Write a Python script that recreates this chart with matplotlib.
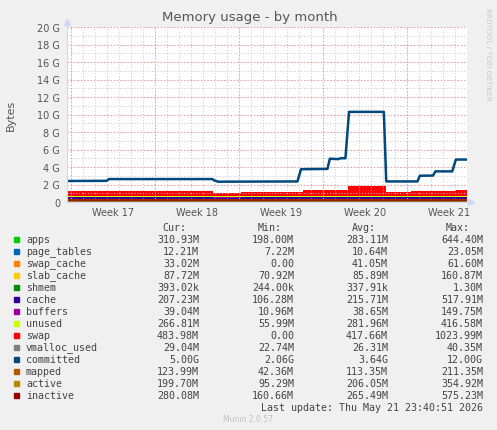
import numpy as np
import matplotlib
matplotlib.use("Agg")
import matplotlib.pyplot as plt
from matplotlib.patches import Rectangle
from matplotlib.transforms import blended_transform_factory

W, H = 497, 431

# stacked areas, values in G per time segment (days since left edge)
seg_days = [0, 12.2, 14.5, 19.7, 23.4, 26.6, 28.7, 32.4, 33.33]
apps = [0.20, 0.19, 0.20, 0.21, 0.22, 0.20, 0.20, 0.21]
page_tables = [0.01, 0.01, 0.01, 0.01, 0.01, 0.01, 0.01, 0.01]
swap_cache = [0.03, 0.03, 0.03, 0.04, 0.05, 0.03, 0.03, 0.03]
slab_cache = [0.10, 0.09, 0.09, 0.09, 0.09, 0.09, 0.09, 0.09]
shmem = [0.0003, 0.0003, 0.0003, 0.0003, 0.0003, 0.0003, 0.0003, 0.0003]
cache = [0.19, 0.19, 0.19, 0.18, 0.17, 0.20, 0.20, 0.19]
buffers = [0.04, 0.04, 0.04, 0.04, 0.03, 0.04, 0.04, 0.04]
unused = [0.15, 0.15, 0.15, 0.15, 0.15, 0.15, 0.15, 0.15]
swap = [0.57, 0.31, 0.38, 0.65, 1.14, 0.46, 0.57, 0.65]

# lines
committed_t = [0, 3.3, 3.5, 12.1, 12.3, 12.6, 19.2, 19.5, 21.7, 21.9, 22.6, 22.8,
               23.2, 23.5, 26.4, 26.6, 29.2, 29.4, 30.5, 30.7, 32.1, 32.4, 33.25]
committed = [2.40, 2.42, 2.62, 2.62, 2.45, 2.32, 2.35, 3.75, 3.78, 4.95, 4.90, 5.00,
             5.00, 10.30, 10.30, 2.35, 2.35, 3.00, 3.02, 3.50, 3.50, 4.85, 4.85]
vmalloc_used = [0.03, 0.03, 0.03, 0.03, 0.03, 0.03, 0.03, 0.03]
mapped = [0.11, 0.10, 0.11, 0.12, 0.12, 0.11, 0.11, 0.12]
active = [0.19, 0.18, 0.19, 0.21, 0.22, 0.19, 0.19, 0.20]
inactive = [0.25, 0.24, 0.25, 0.27, 0.28, 0.26, 0.26, 0.27]

names = ["apps", "page_tables", "swap_cache", "slab_cache", "shmem", "cache", "buffers",
         "unused", "swap", "vmalloc_used", "committed", "mapped", "active", "inactive"]
colors = ["#00cc00", "#0066b3", "#ff8000", "#ffcc00", "#008f00", "#330099", "#990099",
          "#ccff00", "#ff0000", "#808080", "#00487d", "#b35a00", "#b38f00", "#990000"]
cur = ["310.93M", "12.21M", "33.02M", "87.72M", "393.02k", "207.23M", "39.04M",
       "266.81M", "483.98M", "29.04M", "5.00G", "123.99M", "199.70M", "280.08M"]
mins = ["198.00M", "7.22M", "0.00", "70.92M", "244.00k", "106.28M", "10.96M",
        "55.99M", "0.00", "22.74M", "2.06G", "42.36M", "95.29M", "160.66M"]
avgs = ["283.11M", "10.64M", "41.05M", "85.89M", "337.91k", "215.71M", "38.65M",
        "281.96M", "417.66M", "26.31M", "3.64G", "113.35M", "206.05M", "265.49M"]
maxs = ["644.40M", "23.05M", "61.60M", "160.87M", "1.30M", "517.91M", "149.75M",
        "416.58M", "1023.99M", "40.35M", "12.00G", "211.35M", "354.92M", "575.23M"]

week_starts = [0.33, 7.33, 14.33, 21.33, 28.33]
week_labels = ["Week 17", "Week 18", "Week 19", "Week 20", "Week 21"]
y_ticks = list(range(0, 21, 2))
y_labels = ["0"] + ["%d G" % v for v in y_ticks[1:]]


def fy(px):
    return 1 - px / H


def fx(px):
    return px / W


fig = plt.figure(figsize=(W / 100, H / 100), dpi=100, facecolor="#f0f0f0")
ax = fig.add_axes([fx(67), fy(203), 400 / W, 175 / H])
ax.set_facecolor("white")

edges = np.array(seg_days)
stack = [apps, page_tables, swap_cache, slab_cache, shmem, cache, buffers, unused, swap]
base = np.zeros(len(seg_days))
for vals, col in zip(stack, colors[:9]):
    v = np.array(vals + [vals[-1]])
    ax.fill_between(edges, base, base + v, step="post", color=col, lw=0, zorder=1)
    base = base + v

for vals, col in zip([vmalloc_used], [colors[9]]):
    ax.step(edges, vals + [vals[-1]], where="post", color=col, lw=1, zorder=3)
ax.plot(committed_t, committed, color=colors[10], lw=1.8, zorder=3)
for vals, col in zip([mapped, active, inactive], colors[11:]):
    ax.step(edges, vals + [vals[-1]], where="post", color=col, lw=1.1, zorder=3)

ax.set_xlim(0, 33.33)
ax.set_ylim(0, 20)

# grid
for d in np.arange(0.33, 33.3, 1.0):
    ax.axvline(d, color="#c8c8c8", lw=0.7, ls=(0, (1, 2)), zorder=2)
for g in range(1, 21):
    ax.axhline(g, color="#c8c8c8", lw=0.7, ls=(0, (1, 2)), zorder=2)
for d in week_starts:
    ax.axvline(d, color="#e99a9a", lw=0.8, ls=(0, (1, 2)), zorder=2.5)
for g in y_ticks[1:]:
    ax.axhline(g, color="#e99a9a", lw=0.8, ls=(0, (1, 2)), zorder=2.5)

ax.set_yticks(y_ticks)
ax.set_yticklabels(y_labels)
ax.set_xticks([])
ax.tick_params(axis="y", length=0, pad=5, labelsize=7, labelcolor="#555555")
for s in ["top", "right"]:
    ax.spines[s].set_visible(False)
ax.spines["left"].set_color("#cfd6f8")
ax.spines["bottom"].set_color("#cfd6f8")
ax.spines["left"].set_zorder(4)
ax.spines["bottom"].set_zorder(4)

trans = blended_transform_factory(ax.transData, ax.transAxes)
for d, lab in zip(week_starts, week_labels):
    ax.text(d + 3.5, -0.058, lab, transform=trans, ha="center", va="center",
            fontsize=7, color="#555555")

# axis arrows
ax.plot([0], [1.03], marker="^", ms=4, color="#cfd6f8", transform=ax.transAxes, clip_on=False)
ax.plot([1.01], [0], marker=">", ms=4, color="#cfd6f8", transform=ax.transAxes, clip_on=False)
ax.plot([0, 0], [1.0, 1.03], color="#cfd6f8", lw=1, transform=ax.transAxes, clip_on=False)
ax.plot([1.0, 1.01], [0, 0], color="#cfd6f8", lw=1, transform=ax.transAxes, clip_on=False)

fig.text(fx(250), fy(18), "Memory usage - by month", ha="center", va="center",
         fontsize=9.5, color="#555555")
fig.text(fx(11), fy(115), "Bytes", ha="center", va="center", rotation=90,
         fontsize=8, color="#555555")
fig.text(fx(488), fy(54), "RRDTOOL / TOBI OETIKER", ha="center", va="center",
         rotation=270, fontsize=5.2, color="#c8c8c8")

mono = "DejaVu Sans Mono"
tc = "#444444"
col_right = [199, 294, 388, 483]
head_right = [186, 282, 376, 470]
for xr, h in zip(head_right, ["Cur:", "Min:", "Avg:", "Max:"]):
    fig.text(fx(xr), fy(228.5), h, ha="right", va="center", family=mono, fontsize=7.2, color=tc)

for i, name in enumerate(names):
    yy = 240 + 12 * i
    fig.patches.append(Rectangle((fx(14), fy(yy + 2.6)), 5 / W, 5 / H, color=colors[i],
                                 transform=fig.transFigure, figure=fig))
    fig.text(fx(26), fy(yy), name, ha="left", va="center", family=mono, fontsize=7.2, color=tc)
    for xr, vals in zip(col_right, [cur, mins, avgs, maxs]):
        fig.text(fx(xr), fy(yy), vals[i], ha="right", va="center", family=mono,
                 fontsize=7.2, color=tc)

fig.text(fx(483), fy(408), "Last update: Thu May 21 23:40:51 2026", ha="right", va="center",
         family=mono, fontsize=7.2, color=tc)
fig.text(fx(248), fy(420), "Munin 2.0.57", ha="center", va="center", fontsize=5.5,
         color="#c0c0c0")

fig.savefig("out.png", dpi=100, facecolor=fig.get_facecolor())
